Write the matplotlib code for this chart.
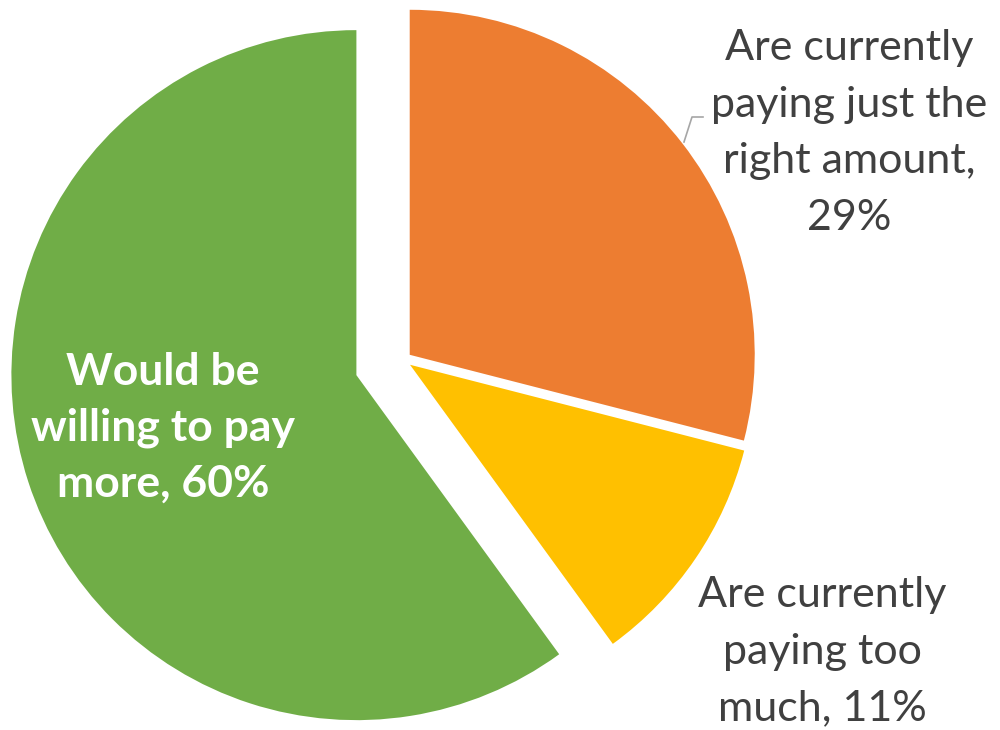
import matplotlib.pyplot as plt

# data
categories = ['Are currently paying just the right amount', 'Are currently paying too much',
              'Would be willing to pay more']
values = [29, 11, 60]
colors = ['#ED7D31', '#FFC000', '#70AD47']
explode = [8.5, 8.5, 49]  # pie offsets, in data units here

plt.rcParams['font.family'] = ['Lato', 'DejaVu Sans']

fig = plt.figure(figsize=(10, 7.3), dpi=100)
ax = fig.add_axes([0, 0, 1, 1])

ax.pie(values, colors=colors, explode=explode, startangle=90, counterclock=False,
       radius=345, center=(403, 370), frame=True)
ax.set_xlim(0, 1000)
ax.set_ylim(0, 730)
ax.set_aspect('equal')
ax.axis('off')

txt_col = '#404040'
ax.text(849, 730 - 133, f"Are currently\npaying just the\nright amount,\n{values[0]}%",
        ha='center', va='center', fontsize=31, color=txt_col, linespacing=1.6)
ax.text(822, 730 - 652, f"Are currently\npaying too\nmuch, {values[1]}%",
        ha='center', va='center', fontsize=31, color=txt_col, linespacing=1.6)
ax.text(163, 730 - 428, f"Would be\nwilling to pay\nmore, {values[2]}%",
        ha='center', va='center', fontsize=32, color='white', fontweight='bold', linespacing=1.48)

# leader line
ax.plot([684, 692, 703], [730 - 142, 730 - 117, 730 - 117], color='#A6A6A6', lw=1.2)

fig.savefig('out.png', dpi=100)
